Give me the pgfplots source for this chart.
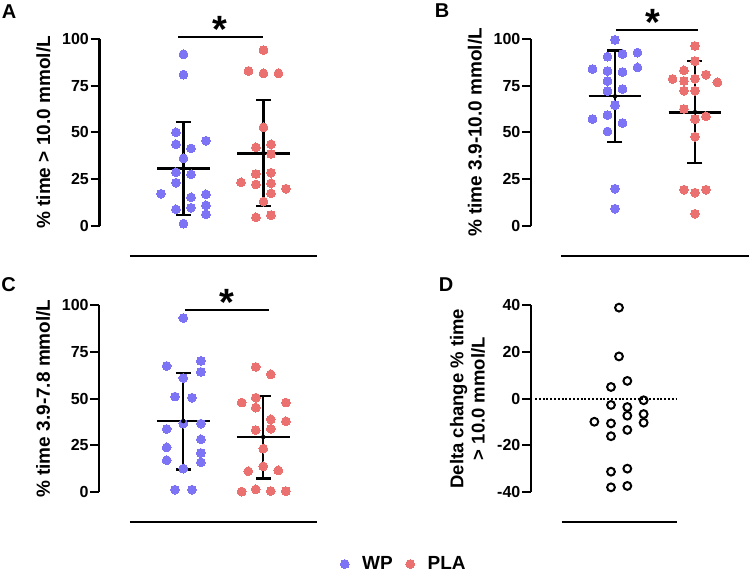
\documentclass[border=0pt]{standalone}
\usepackage{pgfplots}
\pgfplotsset{compat=1.18}
\usepackage{fontspec}
\setmainfont{Liberation Sans}
\definecolor{wpblue}{RGB}{125,115,245}
\definecolor{plared}{RGB}{235,112,112}
\tikzset{sigstar/.style={font=\fontsize{38}{38}\selectfont\bfseries, anchor=north, inner sep=0pt}}
\pgfplotsset{
 panel/.style={
   scale only axis, anchor=south west, clip=false,
   width=217.5pt, height=186.7pt,
   xmin=-0.05, xmax=2.669, ymin=0, ymax=100,
   axis x line=none, axis y line*=left, xtick=\empty,
   axis line style={-, line width=2.3pt, black},
   ytick={0,25,50,75,100},
   tick align=outside, major tick length=9pt,
   every tick/.style={black, line width=2.3pt},
   /pgf/number format/assume math mode=true,
   yticklabel style={font=\fontsize{16}{18}\selectfont\bfseries, inner sep=1.5pt},
   every axis y label/.style={at={(axis description cs:-0.2575,0.5)}, anchor=center, rotate=90, font=\fontsize{19}{21}\selectfont\bfseries},
 },
 wp/.style={only marks, color=wpblue, mark=*, mark size=4.4pt, mark options={draw=wpblue, fill=wpblue, line width=0pt}},
 pla/.style={only marks, color=plared, mark=*, mark size=4.4pt, mark options={draw=plared, fill=plared, line width=0pt}},
 bar/.style={black, line width=2.3pt},
 sd/.style={black, only marks, mark=none, error bars/.cd, y dir=both, y explicit, error bar style={line width=2.3pt, black}, error mark options={rotate=90, line width=2.3pt, mark size=7.5pt, black}},
}
\begin{document}
\begin{tikzpicture}
\useasboundingbox (0pt,0pt) rectangle (750pt,574pt);
% ---------- A ----------
\begin{axis}[panel, at={(99.5pt,348.3pt)}, ylabel={\% time > 10.0 mmol/L}]
\addplot[wp] coordinates {(1,91.8) (1,80.9) (0.906,50.0) (0.906,43.6) (1.094,41.4) (1.281,45.5) (1,36.1) (0.906,28.6) (1.094,27.5) (0.906,23.0) (0.719,17.1) (1.094,15.2) (1.281,16.8) (0.906,8.75) (1.094,9.6) (1.281,10.9) (1.281,6.1) (1,1.1)};
\addplot[pla] coordinates {(2,94.1) (1.8125,82.9) (2,81.6) (2.1875,81.6) (2,52.7) (1.906,42.0) (2.094,43.6) (2.094,38.4) (1.906,27.7) (2.094,28.4) (1.719,23.2) (1.906,22.1) (2.094,22.7) (2.281,19.8) (2.094,17.3) (2,12.9) (1.906,4.5) (2.094,5.7)};
\addplot[bar] coordinates {(0.67,30.7) (1.33,30.7)};
\addplot[bar] coordinates {(1.67,38.75) (2.33,38.75)};
\addplot[sd] coordinates {(1,30.7) +- (0,25.0)};
\addplot[sd] coordinates {(2,38.9) +- (0,28.4)};
\addplot[bar] coordinates {(0.935,101.2) (1.9975,101.2)};
\addplot[bar] coordinates {(0.331,-16.07) (2.669,-16.07)};
\node[sigstar] at (axis cs:1.456,112.5) {*};
\end{axis}
% ---------- B ----------
\begin{axis}[panel, at={(531pt,348.3pt)}, ylabel={\% time 3.9-10.0 mmol/L}]
\addplot[wp] coordinates {(1,99.5) (0.906,90.5) (1.094,92.0) (1.281,92.7) (0.719,83.9) (0.906,82.9) (1.094,82.3) (1.281,84.8) (0.906,77.5) (0.906,72.1) (1.094,73.2) (1,64.6) (0.719,57.1) (0.906,59.3) (1.094,55.0) (0.906,50.5) (1,19.8) (1,9.1)};
\addplot[pla] coordinates {(2,96.25) (2,88.2) (1.8625,83.2) (1.72,78.6) (1.8625,77.5) (2,78.75) (2.1375,80.9) (2.28,76.8) (1.8625,72.3) (2,72.3) (1.8625,62.5) (2,57.1) (2.1375,58.6) (2,47.7) (1.8625,19.3) (2,17.7) (2.1375,19.3) (2,6.4)};
\addplot[bar] coordinates {(0.67,69.3) (1.33,69.3)};
\addplot[bar] coordinates {(1.67,60.7) (2.33,60.7)};
\addplot[sd] coordinates {(1,69.3) +- (0,24.5)};
\addplot[sd] coordinates {(2,60.8) +- (0,27.4)};
\addplot[bar] coordinates {(1.009,104.8) (2.034,104.8)};
\addplot[bar] coordinates {(0.331,-16.07) (2.669,-16.07)};
\node[sigstar] at (axis cs:1.47,116.1) {*};
\end{axis}
% ---------- C ----------
\begin{axis}[panel, at={(99.3pt,82pt)}, ylabel={\% time 3.9-7.8 mmol/L},
  legend columns=2,
  legend style={at={(axis description cs:1.401,-0.386)}, anchor=center, draw=none, fill=none,
    nodes={font=\fontsize{19}{21}\selectfont\bfseries, inner xsep=2pt, inner ysep=0pt},
    /tikz/every even column/.append style={column sep=11pt}, /tikz/every odd column/.append style={column sep=11pt}},
  legend image code/.code={\draw[mark repeat=2,mark phase=2] plot coordinates {(-4pt,0pt) (0pt,0pt) (4pt,0pt)};}]
\addlegendimage{wp}\addlegendentry{WP}
\addlegendimage{pla}\addlegendentry{PLA}
\addplot[wp] coordinates {(1,93.2) (0.792,67.5) (1.22,70.2) (1.22,64.3) (1,61.1) (0.896,51.1) (1.108,50.5) (1,36.6) (1.22,36.6) (0.792,33.75) (1.22,28.2) (0.792,23.9) (1.22,20.9) (0.792,17.0) (1.22,15.9) (1,12.5) (0.896,1.25) (1.108,1.25)};
\addplot[pla] coordinates {(1.906,67.0) (2.094,63.0) (1.73,47.9) (1.906,50.5) (1.906,45.2) (2.283,47.9) (2.094,38.9) (2.283,37.9) (1.906,33.2) (2.094,33.9) (2,23.2) (1.8125,11.1) (2,13.75) (2.1875,11.6) (1.73,0.2) (1.906,1.4) (2.094,0.5) (2.283,0.5)};
\addplot[bar] coordinates {(0.67,38.2) (1.33,38.2)};
\addplot[bar] coordinates {(1.67,29.5) (2.33,29.5)};
\addplot[sd] coordinates {(1,38.0) +- (0,25.9)};
\addplot[sd] coordinates {(2,29.45) +- (0,22.15)};
\addplot[bar] coordinates {(1.021,97.6) (2.074,97.6)};
\addplot[bar] coordinates {(0.331,-16.07) (2.669,-16.07)};
\node[sigstar] at (axis cs:1.54,108.6) {*};
\end{axis}
% ---------- D ----------
\begin{axis}[panel, at={(531pt,82pt)}, width=145.6pt, xmin=-0.1, xmax=1.72, ymin=-40, ymax=40,
  ytick={-40,-20,0,20,40}, yticklabels={-40,-20,0,20,40},
  every axis y label/.style={at={(axis description cs:-0.4368,0.5)}, anchor=center, rotate=90, align=center, font=\fontsize{18.5}{21.3}\selectfont\bfseries},
  ylabel={Delta change \% time\\> 10.0 mmol/L}]
\addplot[black, line width=2pt, dash pattern=on 2pt off 1.8pt] coordinates {(-0.05,0) (1.72,0)};
\addplot[only marks, mark=o, mark size=3.9pt, mark options={draw=black, fill=white, line width=2pt}] coordinates {(1,39.0) (1,18.1) (1.104,7.6) (0.9,5.0) (1.308,-0.7) (0.9,-2.7) (1.104,-3.6) (1.104,-7.3) (1.308,-6.6) (0.692,-9.9) (0.9,-10.6) (1.308,-10.3) (1.104,-13.4) (0.9,-16.1) (0.9,-31.3) (1.104,-30.0) (0.9,-38.0) (1.104,-37.4)};
\addplot[bar] coordinates {(0.284,-52.86) (1.72,-52.86)};
\end{axis}
% ---------- panel letters ----------
\node[font=\fontsize{20}{20}\selectfont\bfseries] at (9pt,562pt) {A};
\node[font=\fontsize{20}{20}\selectfont\bfseries] at (442pt,563pt) {B};
\node[font=\fontsize{20}{20}\selectfont\bfseries] at (8.5pt,289pt) {C};
\node[font=\fontsize{20}{20}\selectfont\bfseries] at (446pt,289pt) {D};
\end{tikzpicture}
\end{document}
